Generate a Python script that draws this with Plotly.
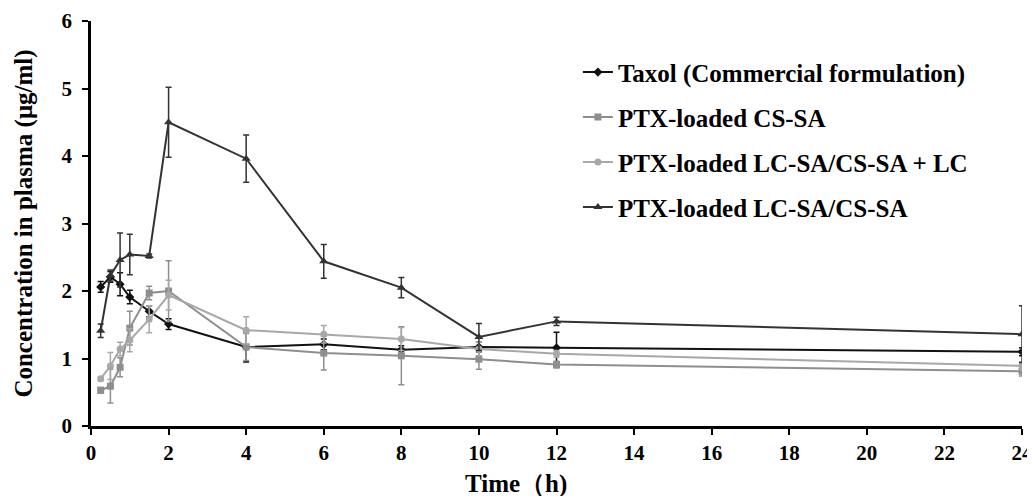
import plotly.graph_objects as go

time_h = [0.25, 0.5, 0.75, 1, 1.5, 2, 4, 6, 8, 10, 12, 24]

taxol = [2.06, 2.21, 2.10, 1.91, 1.70, 1.51, 1.17, 1.21, 1.13, 1.17, 1.16, 1.10]
taxol_err = [0.08, 0.08, 0.17, 0.10, 0.08, 0.08, 0.22, 0.08, 0.06, 0.07, 0.23, 0.06]

cs_sa = [0.53, 0.59, 0.87, 1.45, 1.97, 2.00, 1.17, 1.08, 1.04, 0.99, 0.91, 0.81]
cs_sa_err = [0.04, 0.25, 0.14, 0.25, 0.10, 0.45, 0.20, 0.25, 0.43, 0.15, 0.05, 0.07]

lc_plus = [0.70, 0.89, 1.14, 1.27, 1.58, 1.94, 1.42, 1.36, 1.29, 1.14, 1.07, 0.89]
lc_plus_err = [0.03, 0.20, 0.10, 0.17, 0.20, 0.22, 0.20, 0.13, 0.17, 0.10, 0.05, 0.06]

lc_cs = [1.41, 2.23, 2.46, 2.54, 2.52, 4.50, 3.96, 2.44, 2.05, 1.32, 1.55, 1.36]
lc_cs_err = [0.10, 0.08, 0.40, 0.30, 0.03, 0.52, 0.35, 0.25, 0.15, 0.20, 0.06, 0.42]

series = [
    ("Taxol (Commercial formulation)", taxol, taxol_err, "#111111", "diamond", 7),
    ("PTX-loaded CS-SA", cs_sa, cs_sa_err, "#8e8e8e", "square", 7),
    ("PTX-loaded LC-SA/CS-SA + LC", lc_plus, lc_plus_err, "#a8a8a8", "circle", 7),
    ("PTX-loaded LC-SA/CS-SA", lc_cs, lc_cs_err, "#333333", "triangle-up", 8),
]

x_title = "Time（h)"
y_title = "Concentration in plasma (μg/ml)"

fig = go.Figure()
for i, (name, y, e, col, sym, sz) in enumerate(series):
    fig.add_trace(go.Scatter(
        x=time_h, y=y, name=name, mode="lines+markers", legendgroup=str(i),
        line=dict(color=col, width=2),
        marker=dict(color=col, symbol=sym, size=sz),
        error_y=dict(type="data", array=e, visible=True, color=col, thickness=1.5, width=3),
    ))

font_family = "Liberation Serif, Times New Roman, serif"
# page body has an 8px margin, so the figure is sized to fit the 1035x496 window
fig.update_layout(
    width=1027, height=488,
    margin=dict(l=83, r=13, t=13, b=70),
    paper_bgcolor="white", plot_bgcolor="white",
    font=dict(family=font_family, color="black"),
    showlegend=True,
    legend=dict(
        x=0.523, y=0.93, xanchor="left", yanchor="top",
        font=dict(family=font_family, size=25, color="black", weight="bold"),
        bgcolor="rgba(0,0,0,0)", tracegroupgap=9.5,
        itemwidth=30,
    ),
    xaxis=dict(
        range=[0, 24], tickmode="array", tickvals=list(range(0, 25, 2)),
        showgrid=False, zeroline=False, showline=True, linecolor="black", linewidth=2.5,
        ticks="outside", ticklen=6, tickwidth=2, tickcolor="black",
        tickfont=dict(family=font_family, size=21, weight="bold"),
        automargin=False,
    ),
    yaxis=dict(
        range=[0, 6], tickmode="array", tickvals=list(range(0, 7)),
        showgrid=False, zeroline=False, showline=True, linecolor="black", linewidth=2.5,
        ticks="outside", ticklen=6, tickwidth=2, tickcolor="black",
        tickfont=dict(family=font_family, size=21, weight="bold"),
        ticklabelstandoff=6,
        automargin=False,
        title=dict(text=y_title, font=dict(family=font_family, size=25, weight="bold"), standoff=22),
    ),
    annotations=[dict(
        text=x_title, xref="paper", yref="paper", x=0.4565, y=-0.143,
        xanchor="center", yanchor="middle", showarrow=False,
        font=dict(family=font_family, size=25, weight="bold", color="black"),
    )],
)

fig.write_html("out.html")
